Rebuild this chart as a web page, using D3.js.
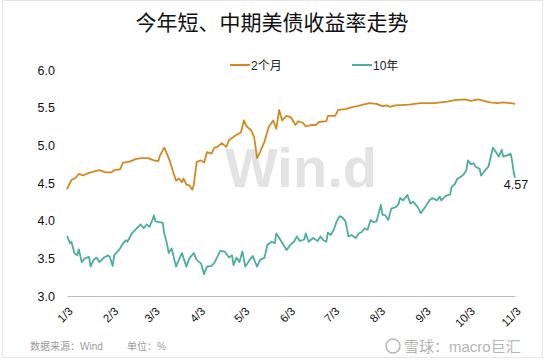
<!DOCTYPE html>
<html>
<head>
<meta charset="utf-8">
<script src="https://cdn.jsdelivr.net/npm/d3@7"></script>
<style>
  body { margin: 0; background: #fff; }
  svg text { font-family: Arial, "Liberation Sans", "Noto Sans CJK SC", sans-serif; }
</style>
</head>
<body>
<div id="chart"></div>
<script>
// data (2023)
const title = "今年短、中期美债收益率走势";
const seriesNames = ["2个月", "10年"];
const seriesColors = ["#D4891E", "#4BAE9F"];
const yTicks = [3.0, 3.5, 4.0, 4.5, 5.0, 5.5, 6.0];
const xTickDates = ["2023-01-03", "2023-02-03", "2023-03-03", "2023-04-03", "2023-05-03", "2023-06-03",
  "2023-07-03", "2023-08-03", "2023-09-03", "2023-10-03", "2023-11-03"];

const dates2m = ["01-03", "01-06", "01-09", "01-11", "01-14", "01-16", "01-21", "01-25", "01-29", "02-02",
  "02-04", "02-08", "02-10", "02-14", "02-19", "02-23", "02-27", "03-03", "03-06", "03-07",
  "03-10", "03-12", "03-14", "03-16", "03-18", "03-20", "03-22", "03-23", "03-25", "03-27",
  "03-29", "03-30", "04-01", "04-04", "04-06", "04-08", "04-11", "04-13", "04-15", "04-18",
  "04-21", "04-23", "04-26", "04-28", "05-01", "05-03", "05-05", "05-08", "05-10", "05-12",
  "05-14", "05-17", "05-20", "05-23", "05-25", "05-27", "05-29", "06-01", "06-04", "06-07",
  "06-09", "06-12", "06-14", "06-18", "06-21", "06-23", "06-28", "06-29", "07-04", "07-06",
  "07-11", "07-16", "07-19", "07-23", "07-27", "08-01", "08-05", "08-08", "08-10", "08-14",
  "08-23", "08-31", "09-09", "09-18", "09-23", "09-30", "10-04", "10-09", "10-13", "10-17",
  "10-22", "10-26", "10-31", "11-03"];
const values2m = [4.42, 4.54, 4.57, 4.62, 4.60, 4.62, 4.65, 4.67, 4.64, 4.64,
  4.67, 4.68, 4.77, 4.78, 4.82, 4.83, 4.83, 4.80, 4.79, 4.86,
  4.97, 4.88, 4.78, 4.65, 4.53, 4.56, 4.51, 4.56, 4.48, 4.47,
  4.41, 4.47, 4.78, 4.80, 4.77, 4.91, 4.89, 4.97, 4.98, 5.03,
  4.98, 5.07, 5.11, 5.14, 5.17, 5.33, 5.25, 5.20, 5.11, 4.83,
  4.91, 5.05, 5.25, 5.33, 5.22, 5.47, 5.33, 5.39, 5.37, 5.27,
  5.32, 5.30, 5.25, 5.27, 5.27, 5.31, 5.32, 5.39, 5.39, 5.47,
  5.48, 5.51, 5.52, 5.54, 5.56, 5.55, 5.52, 5.53, 5.51, 5.53,
  5.54, 5.56, 5.56, 5.58, 5.60, 5.61, 5.59, 5.61, 5.59, 5.57,
  5.56, 5.57, 5.56, 5.55];

const dates10y = ["01-03", "01-05", "01-06", "01-08", "01-10", "01-11", "01-13", "01-15", "01-18", "01-19",
  "01-21", "01-23", "01-25", "01-28", "01-31", "02-01", "02-03", "02-04", "02-08", "02-10",
  "02-12", "02-13", "02-16", "02-18", "02-22", "02-24", "02-26", "02-28", "03-02", "03-03",
  "03-04", "03-09", "03-10", "03-12", "03-13", "03-15", "03-18", "03-19", "03-22", "03-25",
  "03-27", "03-30", "04-01", "04-04", "04-06", "04-08", "04-11", "04-13", "04-15", "04-17",
  "04-20", "04-23", "04-25", "04-26", "04-28", "04-30", "05-02", "05-04", "05-07", "05-09",
  "05-12", "05-14", "05-17", "05-19", "05-22", "05-24", "05-25", "05-28", "06-01", "06-04",
  "06-06", "06-08", "06-10", "06-13", "06-14", "06-16", "06-19", "06-22", "06-24", "06-26",
  "06-28", "06-29", "07-01", "07-03", "07-05", "07-07", "07-09", "07-11", "07-13", "07-15",
  "07-18", "07-20", "07-22", "07-24", "07-26", "07-28", "07-30", "08-01", "08-04", "08-05",
  "08-07", "08-09", "08-11", "08-14", "08-16", "08-17", "08-19", "08-22", "08-24", "08-26",
  "08-29", "08-31", "09-03", "09-06", "09-08", "09-11", "09-13", "09-14", "09-17", "09-20",
  "09-21", "09-23", "09-25", "09-27", "09-29", "10-01", "10-02", "10-04", "10-06", "10-07",
  "10-10", "10-11", "10-13", "10-16", "10-19", "10-21", "10-23", "10-25", "10-26", "10-29",
  "10-31", "11-01", "11-02", "11-03"];
const values10y = [3.80, 3.70, 3.72, 3.57, 3.54, 3.62, 3.45, 3.50, 3.52, 3.39,
  3.48, 3.51, 3.45, 3.51, 3.54, 3.52, 3.40, 3.54, 3.63, 3.70,
  3.74, 3.72, 3.83, 3.87, 3.95, 3.90, 3.95, 3.92, 4.01, 4.07,
  3.99, 3.97, 3.83, 3.68, 3.57, 3.63, 3.39, 3.44, 3.57, 3.39,
  3.50, 3.57, 3.48, 3.43, 3.29, 3.39, 3.40, 3.44, 3.52, 3.60,
  3.59, 3.51, 3.54, 3.41, 3.51, 3.45, 3.59, 3.39, 3.48, 3.53,
  3.39, 3.48, 3.51, 3.68, 3.72, 3.70, 3.83, 3.74, 3.61, 3.69,
  3.72, 3.79, 3.73, 3.75, 3.83, 3.72, 3.77, 3.73, 3.79, 3.74,
  3.72, 3.84, 3.81, 3.88, 3.99, 4.06, 4.04, 3.99, 3.79, 3.81,
  3.77, 3.83, 3.85, 3.90, 3.88, 4.01, 3.98, 3.99, 4.21, 4.08,
  4.07, 4.01, 4.16, 4.18, 4.22, 4.30, 4.27, 4.34, 4.23, 4.25,
  4.18, 4.10, 4.18, 4.27, 4.30, 4.27, 4.32, 4.27, 4.33, 4.35,
  4.45, 4.48, 4.56, 4.58, 4.61, 4.67, 4.80, 4.75, 4.76, 4.72,
  4.69, 4.60, 4.65, 4.72, 4.97, 4.91, 4.85, 4.94, 4.85, 4.87,
  4.89, 4.80, 4.66, 4.57];

const lastLabel = "4.57";
const sourceText = "数据来源：Wind";
const unitText = "单位：%";
const brandText = "雪球：macro巨汇";
const watermark = "Win.d";

// layout
const width = 545, height = 361;
const margin = { top: 70, right: 25, bottom: 65, left: 67 };
const parseDate = d3.timeParse("%Y-%m-%d");
const fmtTick = d3.timeFormat("%-m/%-d");

const svg = d3.select("#chart").append("svg")
  .attr("width", width)
  .attr("height", height);

svg.append("rect")
  .attr("x", 2.5).attr("y", 0.5)
  .attr("width", width - 5).attr("height", height - 4)
  .attr("fill", "#fff")
  .attr("stroke", "#e6e6e6");

const xscale = d3.scaleTime()
  .domain([parseDate(xTickDates[0]), parseDate(xTickDates[xTickDates.length - 1])])
  .range([margin.left, width - margin.right - 5]);
const yscale = d3.scaleLinear()
  .domain([3, 6])
  .range([height - margin.bottom, margin.top]);

// watermark
svg.append("text")
  .attr("x", 225).attr("y", 187)
  .attr("font-size", 56)
  .attr("font-weight", "bold")
  .attr("fill", "#e3e3e3")
  .text(watermark);

// title
svg.append("text")
  .attr("x", 272).attr("y", 30)
  .attr("text-anchor", "middle")
  .attr("font-size", 21)
  .attr("fill", "#111")
  .text(title);

// legend
const legendX = [230, 352];
seriesNames.forEach((name, i) => {
  const g = svg.append("g").attr("transform", `translate(${legendX[i]}, 65)`);
  g.append("line")
    .attr("x1", 0).attr("x2", 20)
    .attr("stroke", seriesColors[i])
    .attr("stroke-width", 2);
  g.append("text")
    .attr("x", 21).attr("y", 4.5)
    .attr("font-size", 12)
    .attr("fill", "#222")
    .text(name);
});

// y axis
const yaxis = d3.axisLeft(yscale)
  .tickValues(yTicks)
  .tickFormat(d3.format(".1f"))
  .tickSize(0)
  .tickPadding(12);
svg.append("g")
  .attr("class", "axis y_axis")
  .attr("transform", `translate(${margin.left}, 0)`)
  .call(yaxis)
  .call(g => g.select(".domain").remove())
  .selectAll("text")
  .attr("font-size", 12.5)
  .attr("fill", "#111");

// x axis
const xaxis = d3.axisBottom(xscale)
  .tickValues(xTickDates.map(parseDate))
  .tickFormat(fmtTick)
  .tickSize(0)
  .tickPadding(0);
svg.append("g")
  .attr("class", "axis x_axis")
  .attr("transform", `translate(0, ${height - margin.bottom})`)
  .call(xaxis)
  .call(g => g.select(".domain").attr("stroke", "#bfbfbf").attr("stroke-width", 1.2))
  .selectAll("text")
  .attr("font-size", 11.5)
  .attr("fill", "#111")
  .attr("text-anchor", "end")
  .attr("dy", 0)
  .attr("transform", "translate(6, 16) rotate(-45)");

// lines
const lineFunc = d3.line()
  .x(d => xscale(d.date))
  .y(d => yscale(d.value));

const series = [
  dates2m.map((d, i) => ({ date: parseDate("2023-" + d), value: values2m[i] })),
  dates10y.map((d, i) => ({ date: parseDate("2023-" + d), value: values10y[i] }))
];

svg.selectAll("path.trend")
  .data(series)
  .join("path")
  .attr("class", "trend")
  .attr("fill", "none")
  .attr("stroke", (d, i) => seriesColors[i])
  .attr("stroke-width", 1.8)
  .attr("stroke-linejoin", "round")
  .attr("d", d => lineFunc(d));

// end label
const last = series[1][series[1].length - 1];
svg.append("text")
  .attr("x", xscale(last.date) + 1)
  .attr("y", yscale(last.value) + 11)
  .attr("text-anchor", "middle")
  .attr("font-size", 12.5)
  .attr("fill", "#111")
  .text(lastLabel);

// footer
svg.append("text")
  .attr("x", 30).attr("y", 350)
  .attr("font-size", 10)
  .attr("fill", "#9a9a9a")
  .text(sourceText);
svg.append("text")
  .attr("x", 127).attr("y", 350)
  .attr("font-size", 10)
  .attr("fill", "#9a9a9a")
  .text(unitText);

svg.append("circle")
  .attr("cx", 393).attr("cy", 346)
  .attr("r", 7)
  .attr("fill", "none")
  .attr("stroke", "#b5b5b5")
  .attr("stroke-width", 1.5);
svg.append("text")
  .attr("x", 404).attr("y", 352)
  .attr("font-size", 15)
  .attr("fill", "#b5b5b5")
  .text(brandText);
</script>
</body>
</html>
